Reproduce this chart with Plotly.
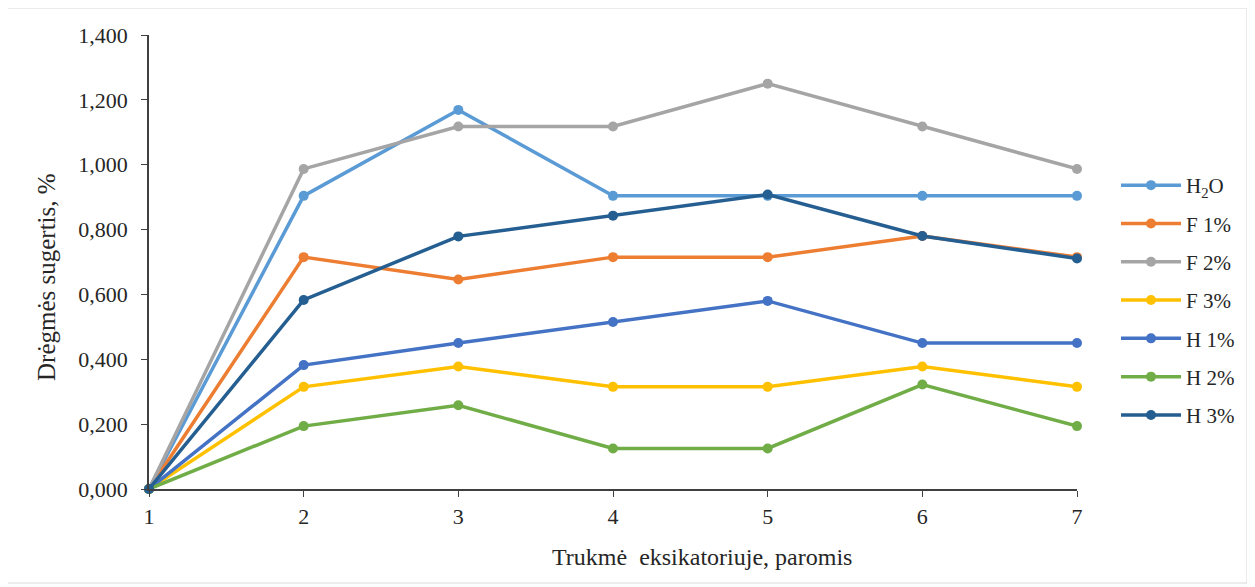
import plotly.graph_objects as go

days = [1, 2, 3, 4, 5, 6, 7]
series_names = ["H<sub>2</sub>O", "F 1%", "F 2%", "F 3%", "H 1%", "H 2%", "H 3%"]
h2o = [0.0, 0.904, 1.169, 0.904, 0.904, 0.904, 0.904]
f1 = [0.0, 0.715, 0.646, 0.715, 0.715, 0.780, 0.715]
f2 = [0.0, 0.987, 1.118, 1.118, 1.250, 1.118, 0.987]
f3 = [0.0, 0.315, 0.378, 0.315, 0.315, 0.378, 0.315]
h1 = [0.0, 0.382, 0.450, 0.515, 0.580, 0.450, 0.450]
h2 = [0.0, 0.194, 0.258, 0.125, 0.125, 0.322, 0.194]
h3 = [0.0, 0.583, 0.779, 0.843, 0.908, 0.780, 0.711]
colors = ["#5B9BD5", "#ED7D31", "#A5A5A5", "#FFC000", "#4472C4", "#70AD47", "#255E91"]
values = [h2o, f1, f2, f3, h1, h2, h3]
y_ticks = [0, 0.2, 0.4, 0.6, 0.8, 1.0, 1.2, 1.4]

SERIF = "Times New Roman, Liberation Serif, serif"

fig = go.Figure()
for i, (name, vals, c) in enumerate(zip(series_names, values, colors)):
    fig.add_trace(go.Scatter(
        x=days, y=vals, name=name, mode="lines+markers",
        line=dict(color=c, width=3.5),
        marker=dict(color=c, size=10, symbol="circle"),
        legendgroup=str(i),
        cliponaxis=False,
    ))

OFF = 8  # page body margin
W, H = 1255 - OFF, 587 - OFF
# plot area in page pixels
PX0, PX1, PY0, PY1 = 149, 1077, 35, 489
L, T = PX0 - OFF, PY0 - OFF
R = W - (PX1 - OFF)
B = H - (PY1 - OFF)
pw, ph = W - L - R, H - T - B

def px_x(x):
    return (x - OFF - L) / pw

def px_y(y):
    return (H - B - (y - OFF)) / ph

fig.update_layout(
    width=W, height=H,
    margin=dict(l=L, r=R, t=T, b=B),
    paper_bgcolor="white", plot_bgcolor="white",
    separators=",.",
    font=dict(family=SERIF, size=20, color="#262626"),
    showlegend=True,
    legend=dict(
        x=px_x(1116), y=px_y(165), xanchor="left", yanchor="top",
        font=dict(family=SERIF, size=21, color="#262626"),
        tracegroupgap=8, itemwidth=60, bgcolor="rgba(0,0,0,0)",
    ),
    xaxis=dict(
        range=[1, 7], tickvals=days, ticktext=[str(d) for d in days],
        showgrid=False, zeroline=False, showline=True, linecolor="#404040", linewidth=1.5,
        ticks="outside", ticklen=6, tickcolor="#404040", ticklabelstandoff=1,
        tickfont=dict(family=SERIF, size=22, color="#262626"),
    ),
    yaxis=dict(
        range=[0, 1.4], tickvals=y_ticks, tickformat=".3f",
        showgrid=False, zeroline=False, showline=True, linecolor="#404040", linewidth=1.5,
        ticks="outside", ticklen=6, tickcolor="#404040", ticklabelstandoff=9,
        tickfont=dict(family=SERIF, size=22, color="#262626"),
    ),
    annotations=[
        dict(text="Trukmė  eksikatoriuje, paromis", x=px_x(702), y=px_y(557),
             xref="paper", yref="paper", showarrow=False, xanchor="center", yanchor="middle",
             font=dict(family=SERIF, size=24, color="#262626")),
        dict(text="Drėgmės sugertis, %", x=px_x(46), y=px_y(277), textangle=-90,
             xref="paper", yref="paper", showarrow=False, xanchor="center", yanchor="middle",
             font=dict(family=SERIF, size=25, color="#262626")),
    ],
    shapes=[
        dict(type="rect", xref="paper", yref="paper",
             x0=px_x(7), x1=px_x(1247), y0=px_y(583), y1=px_y(8),
             line=dict(color="#D9D9D9", width=1)),
    ],
)

fig.write_html("out.html")
